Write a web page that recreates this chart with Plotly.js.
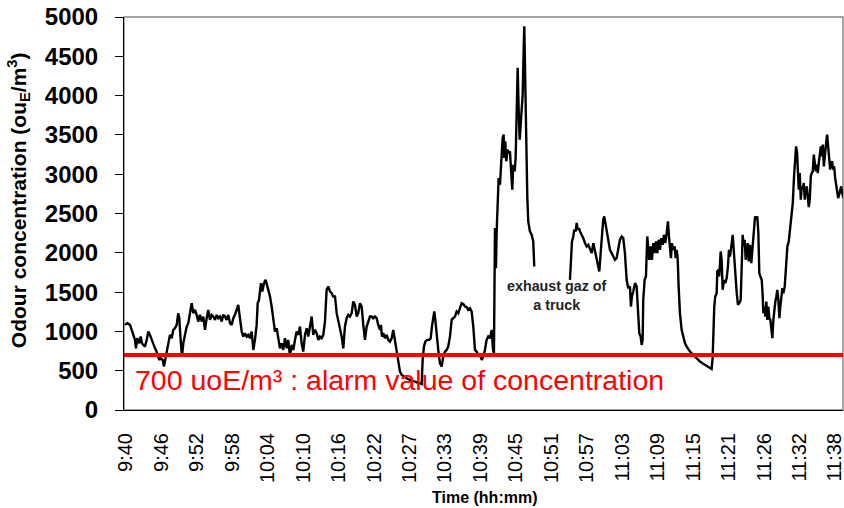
<!DOCTYPE html>
<html>
<head>
<meta charset="utf-8">
<script src="https://cdn.plot.ly/plotly-3.0.1.min.js"></script>
<style>html,body{margin:0;padding:0;background:#fff;}#chart{width:844px;height:508px;}</style>
</head>
<body>
<div id="chart"></div>
<script>
// Elapsed minutes since the first sample (9:40)
const minutes = [
 -0.17,0.22,0.67,0.95,1.22,1.50,1.66,1.88,2.21,2.45,
 2.66,2.88,3.16,3.45,3.71,3.99,4.28,4.54,4.83,4.99,
 5.21,5.54,5.78,6.11,6.32,6.54,6.77,7.04,7.32,7.61,
 7.87,8.16,8.44,8.70,8.87,9.10,9.32,9.54,9.82,10.10,
 10.37,10.65,10.94,11.20,11.48,11.77,12.03,12.32,12.60,12.87,
 13.15,13.43,13.70,13.98,14.26,14.53,14.81,15.10,15.36,15.65,
 15.93,16.19,16.48,16.76,17.03,17.31,17.59,17.86,18.14,18.42,
 18.69,18.97,19.26,19.52,19.81,20.09,20.36,20.64,20.92,21.19,
 21.47,21.75,21.92,22.14,22.30,22.47,22.69,22.97,23.25,23.47,
 23.68,23.97,24.25,24.52,24.80,25.08,25.35,25.63,25.92,26.18,
 26.46,26.75,27.01,27.30,27.58,27.85,28.13,28.41,28.68,28.96,
 29.24,29.51,29.79,30.08,30.34,30.63,30.91,31.17,31.46,31.74,
 32.01,32.29,32.57,32.84,33.12,33.40,33.67,33.95,34.24,34.50,
 34.79,35.07,35.34,35.62,35.90,36.17,36.45,36.73,37.00,37.28,
 37.57,37.83,38.11,38.40,38.66,38.95,39.23,39.50,39.78,40.06,
 40.33,40.61,40.89,41.16,41.44,41.72,41.99,42.28,42.44,42.61,
 42.82,43.11,43.39,43.66,43.94,44.22,44.49,44.77,45.05,45.32,
 45.61,45.89,46.16,46.72,47.27,47.82,48.38,48.94,49.22,49.38,
 49.60,49.82,50.16,50.49,50.72,50.93,51.15,51.32,51.49,51.72,
 51.98,52.26,52.55,52.81,53.09,53.37,53.64,53.93,54.21,54.48,
 54.76,55.04,55.31,55.59,55.87,56.14,56.42,56.71,56.97,57.26,
 57.54,57.81,58.09,58.37,58.64,58.92,59.21,59.47,59.75,60.03,
 60.30,60.59,60.87,61.08,61.25,61.42,61.58,61.70,61.87,62.03,
 62.25,62.41,62.58,62.70,62.86,62.96,63.13,63.30,63.53,63.75,
 63.91,64.08,64.30,64.46,64.70,64.86,65.03,65.20,65.36,65.53,
 65.70,65.86,66.03,66.20,66.30,66.46,66.63,66.80,66.96,67.24,
 67.53,67.79,67.96,70.90,
 73.90,74.07,74.24,74.45,74.62,74.85,75.02,75.19,75.40,75.57,
 75.85,76.12,76.40,76.68,76.96,77.24,77.52,77.79,78.07,78.35,
 78.62,78.79,79.01,79.23,79.44,79.61,79.78,80.01,80.28,80.56,
 80.84,81.11,81.39,81.67,81.94,82.22,82.51,82.77,83.05,83.34,
 83.60,83.89,84.05,84.22,84.44,84.72,85.00,85.22,85.44,85.67,
 85.84,86.00,86.10,86.33,86.55,86.77,86.94,87.10,87.33,87.55,
 87.77,88.00,88.22,88.44,88.67,88.88,89.10,89.33,89.55,89.77,
 90.00,90.21,90.38,90.55,90.71,90.88,91.09,91.33,91.49,91.66,
 91.83,91.99,92.21,92.49,92.76,93.05,93.33,93.88,94.43,94.99,
 95.54,96.09,96.65,97.20,97.48,97.65,97.75,97.92,98.09,98.32,
 98.42,98.59,98.75,98.99,99.15,99.32,99.54,99.75,99.99,100.20,
 100.37,100.54,100.76,100.99,101.20,101.42,101.66,101.87,102.09,102.32,
 102.49,102.65,102.82,102.99,103.15,103.32,103.49,103.65,103.87,104.09,
 104.32,104.54,104.71,104.87,105.09,105.26,105.42,105.59,105.82,105.99,
 106.09,106.26,106.42,106.59,106.76,106.92,107.09,107.26,107.42,107.59,
 107.76,107.92,108.09,108.26,108.42,108.59,108.76,108.92,109.09,109.26,
 109.42,109.65,109.87,110.09,110.32,110.54,110.76,110.99,111.20,111.37,
 111.54,111.70,111.87,111.99,112.15,112.32,112.49,112.65,112.82,112.99,
 113.15,113.32,113.49,113.65,113.82,113.99,114.15,114.32,114.49,114.66,
 114.82,114.99,115.16,115.32,115.49,115.66,115.82,115.99,116.16,116.32,
 116.54,116.71,116.88,117.04,117.21,117.38,117.54,117.71,117.88,118.04,
 118.21,118.38,118.54,118.71,118.88,119.04,119.21,119.43
];

// Odour concentration (ouE/m3); null = no data (sensor gap)
const odour = [
 1083,1104,1083,1019,934,892,785,913,849,934,
 849,828,807,892,998,956,892,828,785,764,
 701,637,658,637,552,637,764,849,956,913,
 1019,1041,1083,1232,1168,892,679,849,977,1062,
 1104,1210,1359,1232,1274,1210,1125,1210,1125,1189,
 1019,1168,1274,1147,1210,1189,1147,1210,1168,1189,
 1125,1210,1189,1147,1210,1104,1083,1168,1210,1274,
 1338,1168,998,934,977,934,956,913,998,764,
 892,1083,1359,1401,1529,1614,1508,1614,1656,1593,
 1550,1444,1317,1147,998,1041,913,785,849,764,
 913,785,892,679,828,764,892,998,956,1062,
 849,743,956,1041,934,1083,1189,956,1019,977,
 892,934,913,956,1125,1529,1572,1508,1486,1444,
 1444,1232,1147,1062,934,785,1062,1168,1210,1189,
 1232,1380,1338,1189,1232,1359,1317,1083,892,1062,
 1125,1189,1189,1168,1189,1168,1083,1019,1083,934,
 977,913,956,892,870,913,1019,870,785,637,
 488,446,430,404,382,370,348,340,330,637,
 807,870,892,892,913,1062,1189,1253,1147,934,
 764,595,552,679,743,764,807,934,1147,1168,
 1189,1253,1232,1295,1359,1350,1317,1310,1274,1295,
 1253,1062,764,743,679,722,637,679,764,892,
 934,913,1019,780,720,2315,1805,2270,2654,2952,
 2867,3121,3249,3461,3504,3206,3418,3164,3312,3270,
 3291,3121,2803,3121,3036,3206,3758,4353,3843,3440,
 3631,3800,4013,4608,4883,4183,3334,2710,2400,2272,
 2229,2144,1826,null,
 1656,1953,2144,2208,2293,2272,2379,2293,2314,2272,
 2229,2187,2123,2081,2102,2038,1996,2123,2017,1932,
 1847,1763,1996,2272,2421,2463,2379,2272,2123,2038,
 1996,1953,1911,1932,2038,2166,2208,2187,1996,1656,
 1550,1572,1316,1444,1508,1614,1572,1232,977,934,
 828,892,1401,1656,1699,2208,2038,1911,2081,1911,
 2123,1996,2144,1996,2166,2038,2187,2102,2229,2123,
 2250,2400,2208,2081,1932,2123,2038,2081,1932,2038,
 1932,1572,1232,1019,913,849,807,743,701,658,
 616,588,560,539,522,658,1062,1316,1444,1486,
 1763,1784,1699,2017,1911,1529,1656,1614,1678,1826,
 2038,1953,2081,2229,1996,1699,1486,1338,1359,1401,
 1784,2229,2081,2166,1911,1996,2123,1890,2102,1869,
 2081,2336,2463,2421,2463,2251,1741,1699,1656,1444,
 1232,1316,1189,1380,1147,1316,1168,1147,977,913,
 1147,1274,1380,1444,1529,1401,1168,1316,1486,1550,
 1486,1572,1826,2081,2144,2293,2463,2633,2973,3228,
 3355,3270,3058,2803,3015,2675,2845,2803,2888,2675,
 2803,2845,2718,2582,2675,2973,3015,3036,3249,3143,
 3036,3121,3015,3143,3270,3355,3228,3376,3100,3270,
 3397,3504,3312,3228,3058,3143,3164,3058,3100,2952,
 2845,2760,2697,2739,2782,2845,2760,2697
];

const tickLabels = ['9:40','9:46','9:52','9:58','10:04','10:10','10:16','10:22','10:27','10:33',
  '10:39','10:45','10:51','10:57','11:03','11:09','11:15','11:21','11:26','11:32','11:38'];
const labelStepMinutes = 5.9;   // labelled samples are ~5.9 min apart
const alarmValue = 700;
const alarmText = '700 uoE/m³ : alarm value of concentration';
const truckNote = 'exhaust gaz of<br>a truck';
const truckNoteAt = {minute: 71.7, value: 1452};

const xRange = [-0.33, 119.35];
const tickVals = tickLabels.map((_, i) => Math.round(i * labelStepMinutes * 100) / 100);
const FONT = 'Liberation Sans, Arial, Helvetica, sans-serif';

const traces = [
  {
    x: minutes, y: odour, type: 'scatter', mode: 'lines',
    line: {color: '#000000', width: 2.4}, connectgaps: false,
    hoverinfo: 'x+y', showlegend: false
  },
  {
    x: xRange, y: [alarmValue, alarmValue], type: 'scatter', mode: 'lines',
    line: {color: '#ff0000', width: 4}, showlegend: false, hoverinfo: 'skip'
  }
];

const layout = {
  width: 844, height: 508,
  margin: {l: 124, r: 1, t: 17, b: 98, pad: 0},
  paper_bgcolor: '#ffffff', plot_bgcolor: '#ffffff',
  font: {family: FONT, color: '#000000'},
  showlegend: false,
  xaxis: {
    range: xRange, showgrid: false, zeroline: false,
    showline: true, linecolor: '#000000', linewidth: 1,
    tickmode: 'array', tickvals: tickVals, ticktext: tickLabels,
    tickangle: -90, ticks: '', ticklabelstandoff: 14, ticklabeloverflow: 'allow',
    tickfont: {family: FONT, size: 20, color: '#000000'}
  },
  yaxis: {
    range: [0, 5000], tick0: 0, dtick: 500, showgrid: false, zeroline: false,
    showline: true, linecolor: '#000000', linewidth: 1,
    ticks: 'outside', ticklen: 8, tickcolor: '#000000', tickwidth: 1,
    ticklabelstandoff: 12,
    tickfont: {family: FONT, size: 24, weight: 700, color: '#000000'}
  },
  shapes: [
    {type: 'rect', xref: 'paper', yref: 'paper', x0: 0, x1: 1, y0: 0, y1: 1,
     line: {color: '#888888', width: 1.5}, layer: 'below'}
  ],
  annotations: [
    {text: 'Time (hh:mm)', xref: 'paper', yref: 'paper', x: 0.5007, y: -0.2214,
     xanchor: 'center', yanchor: 'middle', showarrow: false,
     font: {family: FONT, size: 16, weight: 700, color: '#000000'}},
    {text: 'Odour concentration (ou<sub>E</sub>/m<sup>3</sup>)', xref: 'paper', yref: 'paper',
     x: -0.1474, y: 0.534, xanchor: 'center', yanchor: 'middle', textangle: -90, showarrow: false,
     font: {family: FONT, size: 21, weight: 700, color: '#000000'}},
    {text: alarmText, xref: 'paper', yref: 'paper', x: 0.0125, y: 0.077,
     xanchor: 'left', yanchor: 'middle', showarrow: false,
     font: {family: FONT, size: 28.5, color: '#ff0000'}},
    {text: truckNote, xref: 'x', yref: 'y', x: truckNoteAt.minute, y: truckNoteAt.value,
     xanchor: 'center', yanchor: 'middle', showarrow: false, align: 'center',
     font: {family: FONT, size: 14.3, weight: 700, color: '#222222'}}
  ]
};

Plotly.newPlot('chart', traces, layout, {staticPlot: true, displayModeBar: false});
</script>
</body>
</html>
